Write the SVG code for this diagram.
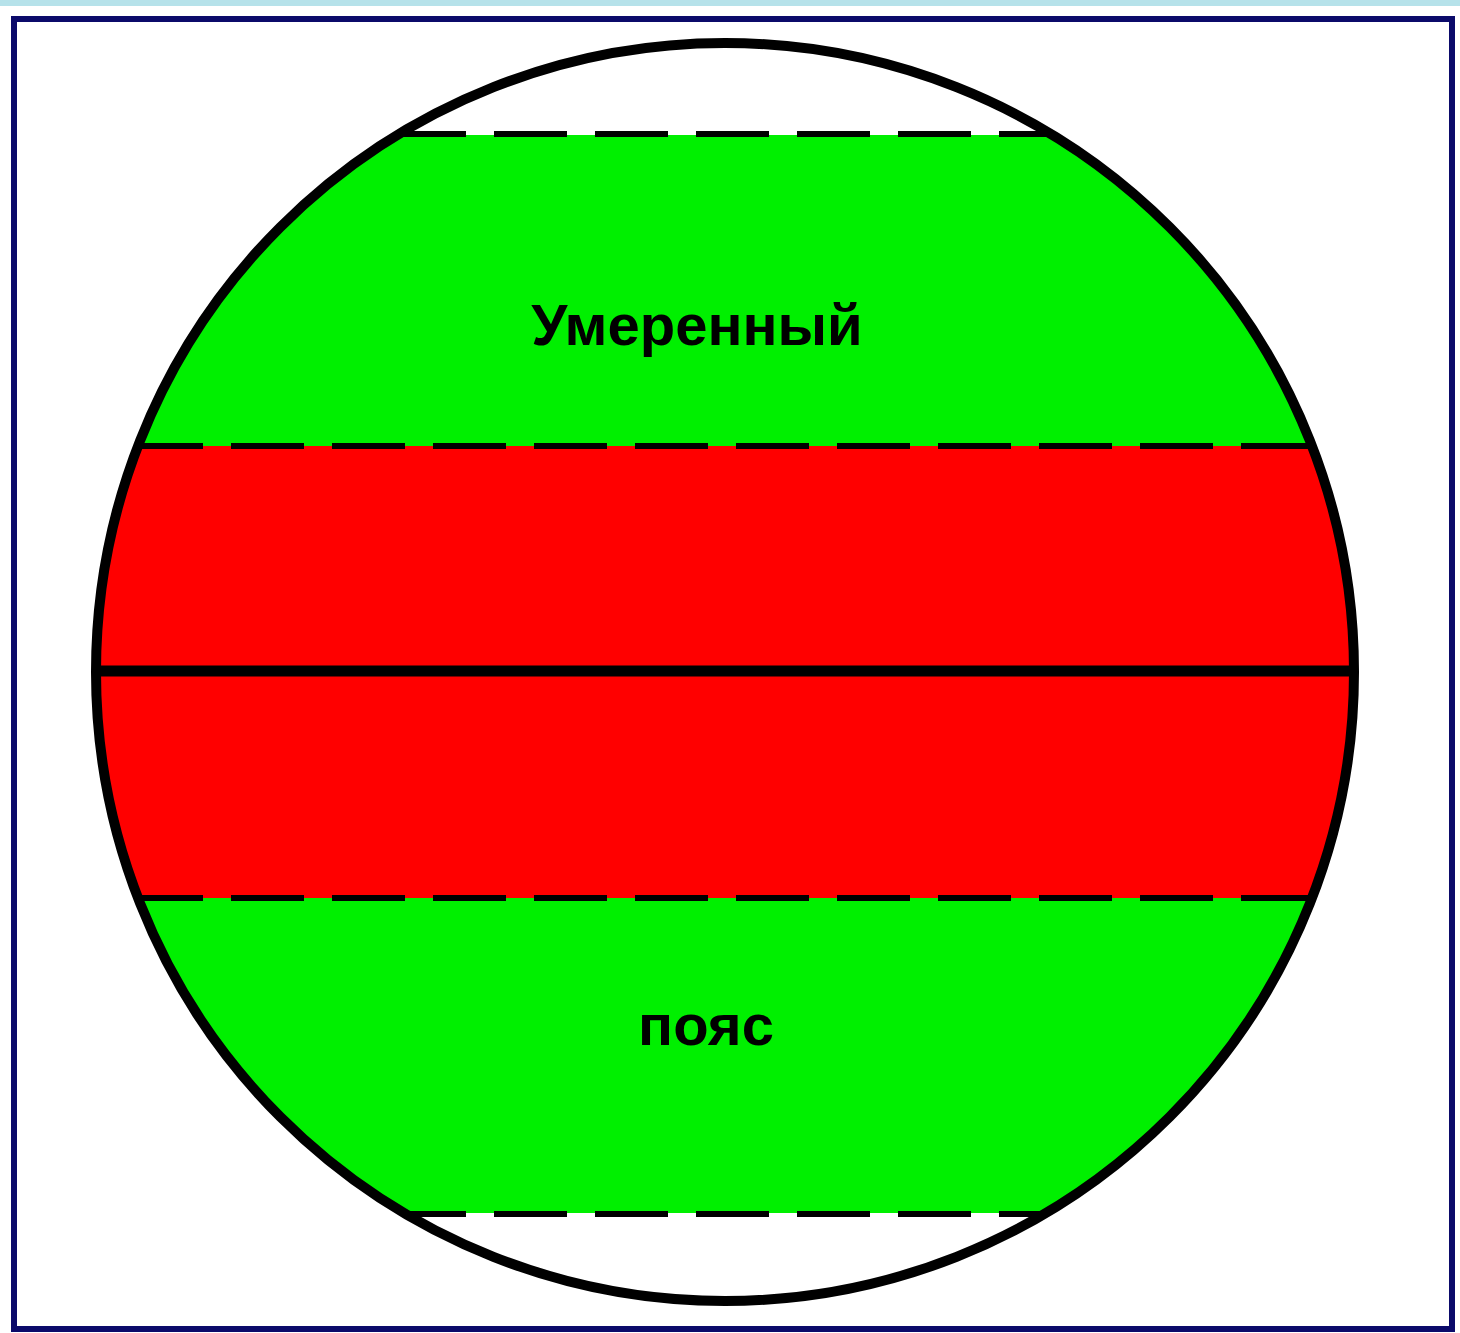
<svg xmlns="http://www.w3.org/2000/svg" width="1460" height="1333" viewBox="0 0 1460 1333">
<defs>
<clipPath id="globe"><circle cx="725" cy="672" r="628"/></clipPath>
<style>
.dash{stroke:#000;stroke-width:6;stroke-dasharray:73 28;fill:none}
.lbl{font-family:"Liberation Sans",Arial,sans-serif;font-weight:bold;font-size:58px;fill:#000;text-anchor:middle}
</style>
</defs>
<rect x="0" y="0" width="1460" height="1333" fill="#ffffff"/>
<rect x="0" y="0" width="1460" height="6" fill="#b6e2ea"/>
<rect id="frame" x="14" y="19" width="1438" height="1310" fill="#fff" stroke="#0b0a6a" stroke-width="6"/>
<g id="globe-zones" clip-path="url(#globe)">
<rect id="temperate-north" x="90" y="135" width="1270" height="311" fill="#00f000"/>
<rect id="tropical" x="90" y="446" width="1270" height="452" fill="#ff0000"/>
<rect id="temperate-south" x="90" y="898" width="1270" height="315" fill="#00f000"/>
</g>
<g id="connectors" clip-path="url(#globe)">
<line class="dash" x1="90" y1="134" x2="1360" y2="134"/>
<line class="dash" x1="130" y1="446" x2="1360" y2="446"/>
<line class="dash" x1="130" y1="898" x2="1360" y2="898"/>
<line class="dash" x1="90" y1="1214" x2="1360" y2="1214"/>
<line x1="90" y1="671" x2="1360" y2="671" stroke="#000" stroke-width="11"/>
</g>
<circle id="globe-outline" cx="725" cy="672" r="629" fill="none" stroke="#000" stroke-width="10"/>
<g id="label-top"><text class="lbl" x="697" y="345">Умеренный</text></g>
<g id="label-bottom"><text class="lbl" x="706" y="1045">пояс</text></g>
</svg>
